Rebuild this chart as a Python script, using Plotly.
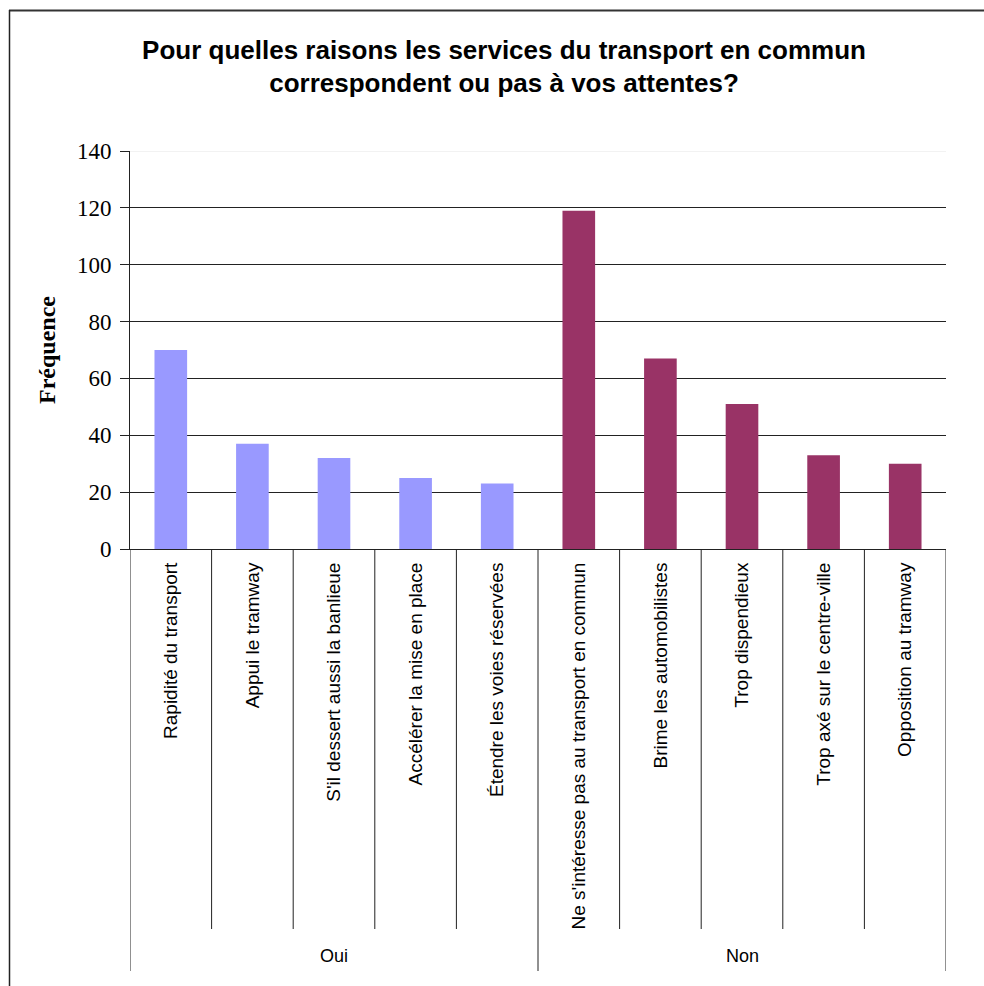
import plotly.graph_objects as go

title_text = "Pour quelles raisons les services du transport en commun<br>correspondent ou pas à vos attentes?"
y_title = "Fréquence"

groups = ["Oui", "Non"]
oui_categories = ["Rapidité du transport", "Appui le tramway", "S'il dessert aussi la banlieue",
                  "Accélérer la mise en place", "Étendre les voies réservées"]
oui_values = [70, 37, 32, 25, 23]
non_categories = ["Ne s'intéresse pas au transport en commun", "Brime les automobilistes",
                  "Trop dispendieux", "Trop axé sur le centre-ville", "Opposition au tramway"]
non_values = [119, 67, 51, 33, 30]
y_ticks = [0, 20, 40, 60, 80, 100, 120, 140]

colors = {"Oui": "#9999FF", "Non": "#993366"}

W, H = 984, 986
L, R, T, B = 130, 946, 151, 549
pw, ph = R - L, B - T

def px2paper_x(px):
    return (px - L) / pw

def px2paper_y(py):
    return (B - py) / ph

all_categories = oui_categories + non_categories

fig = go.Figure()
fig.add_trace(go.Bar(x=oui_categories, y=oui_values, name="Oui",
                     marker=dict(color=colors["Oui"], line=dict(width=0))))
fig.add_trace(go.Bar(x=non_categories, y=non_values, name="Non",
                     marker=dict(color=colors["Non"], line=dict(width=0))))

shapes = []
# category separators
n = len(all_categories)
for i in range(n + 1):
    is_group_edge = i in (0, len(oui_categories), n)
    shapes.append(dict(type="line", xref="x", yref="paper",
                       x0=i - 0.5, x1=i - 0.5, y0=0,
                       y1=px2paper_y(971 if is_group_edge else 929),
                       line=dict(color="#222222", width=1)))
# top gridline lighter
shapes.append(dict(type="line", xref="paper", yref="y", x0=0, x1=1, y0=140, y1=140,
                   line=dict(color="#e6e6e6", width=1), layer="above"))
# outer frame (top and left)
shapes.append(dict(type="line", xref="paper", yref="paper",
                   x0=px2paper_x(9), x1=px2paper_x(990), y0=px2paper_y(10.5), y1=px2paper_y(10.5),
                   line=dict(color="#333333", width=2)))
shapes.append(dict(type="line", xref="paper", yref="paper",
                   x0=px2paper_x(9.5), x1=px2paper_x(9.5), y0=px2paper_y(10), y1=px2paper_y(995),
                   line=dict(color="#222222", width=1.5)))

annotations = []
group_members = [oui_categories, non_categories]
start = 0
for g, members in zip(groups, group_members):
    center = start + (len(members) - 1) / 2
    annotations.append(dict(text=g, x=center, xref="x", y=px2paper_y(956), yref="paper",
                            showarrow=False, xanchor="center", yanchor="middle",
                            font=dict(family="Liberation Sans, Arial", size=18, color="black")))
    start += len(members)
annotations.append(dict(text="<b>" + y_title + "</b>", x=px2paper_x(47), xref="paper",
                        y=0.5, yref="paper", textangle=-90, showarrow=False,
                        xanchor="center", yanchor="middle",
                        font=dict(family="Liberation Serif, Times New Roman", size=24, color="black")))

fig.update_layout(
    width=W, height=H,
    margin=dict(l=L, r=W - R, t=T, b=H - B, pad=0),
    paper_bgcolor="white", plot_bgcolor="white",
    showlegend=False,
    barmode="relative", bargap=0.6,
    title=dict(text="<b>" + title_text + "</b>", x=504 / W, xref="container",
               xanchor="center", y=1 - 58.5 / H, yref="container", yanchor="middle",
               font=dict(family="Liberation Sans, Arial", size=26, color="black")),
    shapes=shapes, annotations=annotations,
)
fig.update_xaxes(type="category", categoryorder="array", categoryarray=all_categories,
                 tickangle=-90, showline=True, linecolor="#222222", linewidth=1,
                 ticks="", showgrid=False, ticklabelstandoff=5,
                 tickfont=dict(family="Liberation Sans, Arial", size=19, color="black"),
                 range=[-0.5, n - 0.5], automargin=False)
fig.update_yaxes(range=[0, 140], tickvals=y_ticks, showline=True, linecolor="#222222", linewidth=1,
                 ticks="outside", ticklen=9, tickcolor="#222222", showgrid=True,
                 gridcolor="#222222", gridwidth=1, zeroline=False, ticklabelstandoff=4,
                 tickfont=dict(family="Liberation Serif, Times New Roman", size=23, color="black"),
                 automargin=False)

fig.write_html("out.html")
